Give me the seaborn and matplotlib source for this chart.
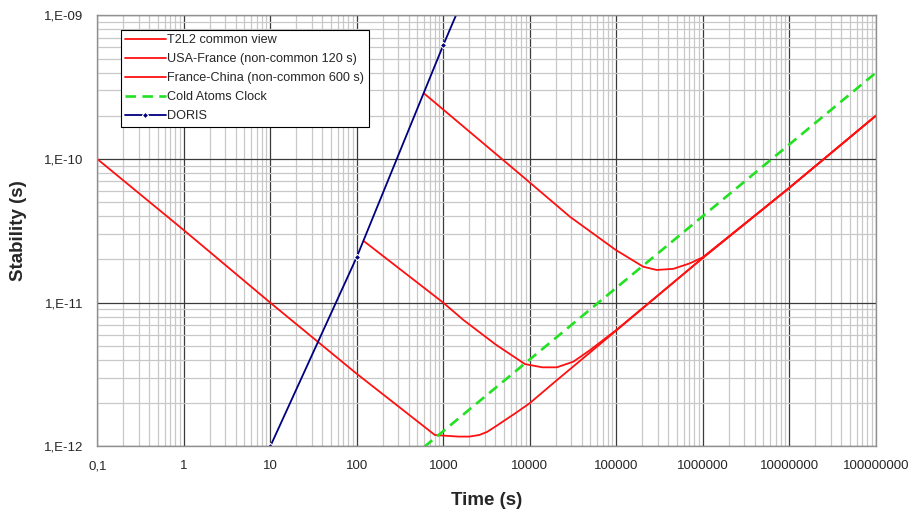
import numpy as np
import pandas as pd
import seaborn as sns
import matplotlib.pyplot as plt
from matplotlib.ticker import FixedLocator, FixedFormatter, LogLocator, NullFormatter

sns.set_style("white")
plt.rcParams['font.family'] = ['Liberation Sans', 'DejaVu Sans']

# values
common_t = [0.1, 1, 10, 100, 800, 1500, 2000, 2600, 3200, 4200, 5400, 7000, 1e4, 2e4, 1e5, 1e6, 1e7, 1e8]
common_s = [1e-10, 3.2e-11, 1e-11, 3.2e-12, 1.2e-12, 1.17e-12, 1.17e-12, 1.2e-12, 1.26e-12, 1.4e-12,
            1.55e-12, 1.72e-12, 2.0e-12, 2.85e-12, 6.4e-12, 2.05e-11, 6.3e-11, 2.0e-10]

usa_t = [120, 1000, 1700, 4100, 8800, 14000, 20500, 32000, 50000, 1e5, 1e6, 1e7, 1e8]
usa_s = [2.69e-11, 1e-11, 7.6e-12, 5.08e-12, 3.74e-12, 3.55e-12, 3.55e-12, 3.89e-12, 4.69e-12,
         6.46e-12, 2.05e-11, 6.3e-11, 2.0e-10]

china_t = [600, 7900, 29200, 98500, 2.05e5, 2.93e5, 4.56e5, 7.1e5, 1e6, 1e7, 1e8]
china_s = [2.86e-10, 7.74e-11, 3.96e-11, 2.33e-11, 1.78e-11, 1.69e-11, 1.72e-11, 1.88e-11, 2.07e-11,
           6.3e-11, 2.0e-10]

atoms_t = [600, 1e8]
atoms_s = [9.9e-13, 3.98e-10]

doris_t = [10, 100, 1000, 10000]
doris_s = [1e-12, 2.08e-11, 6.21e-10, 1.6e-8]

x_ticks = [0.1, 1, 10, 100, 1000, 1e4, 1e5, 1e6, 1e7, 1e8]
x_labels = ["0,1", "1", "10", "100", "1000", "10000", "100000", "1000000", "10000000", "100000000"]
y_ticks = [1e-12, 1e-11, 1e-10, 1e-9]
y_labels = ["1,E-12", "1,E-11", "1,E-10", "1,E-09"]

red = "#ff1010"
fig, ax = plt.subplots(figsize=(9.1, 5.16), dpi=100)
fig.subplots_adjust(left=0.1069, right=0.9624, top=0.9703, bottom=0.1349)

sns.lineplot(x=common_t, y=common_s, color=red, lw=1.3, sort=False, ax=ax, label="T2L2 common view")
sns.lineplot(x=usa_t, y=usa_s, color=red, lw=1.3, sort=False, ax=ax, label="USA-France (non-common 120 s)")
sns.lineplot(x=china_t, y=china_s, color=red, lw=1.3, sort=False, ax=ax, label="France-China (non-common 600 s)")
sns.lineplot(x=atoms_t, y=atoms_s, color="#22e022", lw=1.9, linestyle=(0, (4, 2.4)), sort=False, ax=ax,
             label="Cold Atoms Clock")
sns.lineplot(x=doris_t, y=doris_s, color="#000080", lw=1.3, marker="D", markersize=3.2, sort=False, ax=ax,
             label="DORIS")

ax.set_xscale("log")
ax.set_yscale("log")
ax.set_xlim(0.1, 1e8)
ax.set_ylim(1e-12, 1e-9)

ax.xaxis.set_major_locator(FixedLocator(x_ticks))
ax.xaxis.set_major_formatter(FixedFormatter(x_labels))
ax.yaxis.set_major_locator(FixedLocator(y_ticks))
ax.yaxis.set_major_formatter(FixedFormatter(y_labels))
ax.xaxis.set_minor_locator(LogLocator(base=10, subs=np.arange(2, 10), numticks=20))
ax.yaxis.set_minor_locator(LogLocator(base=10, subs=np.arange(2, 10), numticks=20))
ax.xaxis.set_minor_formatter(NullFormatter())
ax.yaxis.set_minor_formatter(NullFormatter())

ax.grid(which="minor", color="#c8c8c8", lw=0.9)
ax.grid(which="major", color="#3a3a3a", lw=0.9)
ax.set_axisbelow(True)
ax.tick_params(which="major", direction="out", length=4, color="#808080", labelsize=9.5, pad=6)
ax.tick_params(which="minor", length=0)
for s in ax.spines.values():
    s.set_color("#909090")
    s.set_linewidth(1.0)

ax.set_xlabel("Time (s)", fontsize=13.5, fontweight="bold", labelpad=14)
ax.set_ylabel("Stability (s)", fontsize=13.5, fontweight="bold", labelpad=12)

leg = ax.legend(loc="upper left", bbox_to_anchor=(0.030, 0.966), borderaxespad=0, fontsize=9.1,
                handlelength=3.2, handletextpad=0.15, labelspacing=0.55, borderpad=0.35,
                fancybox=False, framealpha=1, edgecolor="black")
leg.get_frame().set_linewidth(0.8)

fig.savefig("out.png", dpi=100, facecolor="white")
